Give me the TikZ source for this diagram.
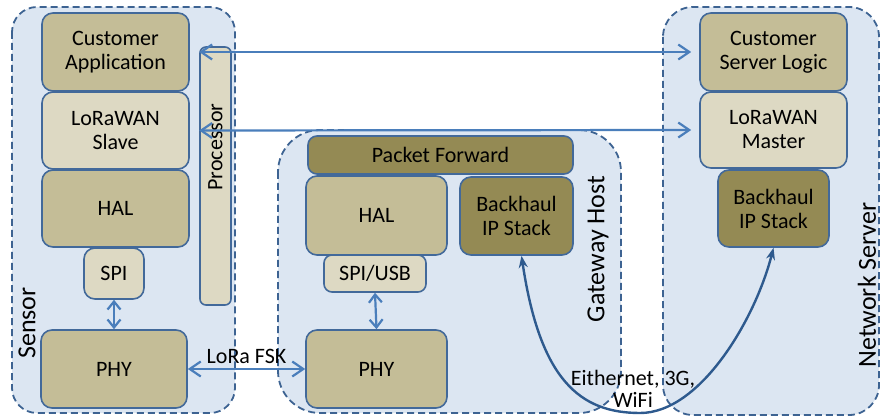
\documentclass[tikz,border=0pt]{standalone}
\usepackage{fontspec}
\setmainfont{Carlito}
\usetikzlibrary{arrows.meta}
\definecolor{zonefill}{HTML}{DCE6F2}
\definecolor{zoneline}{HTML}{3D6392}
\definecolor{boxline}{HTML}{42699A}
\definecolor{tan}{HTML}{C4BD97}
\definecolor{pale}{HTML}{DDD9C3}
\definecolor{olive}{HTML}{948A54}
\definecolor{link}{HTML}{4A7EBB}
\definecolor{trunk}{HTML}{2E5A8E}
\tikzset{
  zone/.style={draw=zoneline, fill=zonefill, dashed, dash pattern=on 7pt off 4pt, line width=1.8pt},
  blk/.style={draw=boxline, line width=1.6pt, rounded corners=11pt, align=center,
    font=\fontsize{22}{24}\selectfont, inner sep=0pt},
  tanbox/.style={blk, fill=tan},
  palebox/.style={blk, fill=pale},
  olivebox/.style={blk, fill=olive},
  zonelabel/.style={rotate=90, inner sep=0pt, font=\fontsize{26}{30}\selectfont},
  barb/.tip={Straight Barb[length=11pt,width=15pt,line width=2.2pt]},
  shortbarb/.tip={Straight Barb[length=8pt,width=13pt,line width=2.2pt]},
  linkarrow/.style={draw=link, line width=2.2pt, {barb}-{barb}},
  uparrow/.style={draw=link, line width=2.2pt, {shortbarb}-{shortbarb}},
  trunkarrow/.style={draw=trunk, line width=2.4pt, {Stealth[length=12pt,width=9pt]}-{Stealth[length=12pt,width=9pt]}}
}
\begin{document}
\begin{tikzpicture}[x=1pt,y=-1pt]
\useasboundingbox (0,0) rectangle (882,419);

% containers
\draw[zone, rounded corners=25pt] (12,7) rectangle (235,413);
\draw[zone, rounded corners=42pt] (278,130) rectangle (621,413);
\draw[zone, rounded corners=30pt] (663,7) rectangle (879,415);

% sensor stack
\node[tanbox, minimum width=147pt, minimum height=78pt] (capp) at (115.5,52) {Customer\\Application};
\node[palebox, minimum width=147pt, minimum height=77pt] (slave) at (115.5,130.5) {LoRaWAN\\Slave};
\node[tanbox, minimum width=147pt, minimum height=77pt] (shal) at (115.5,208.5) {HAL};
\node[palebox, minimum width=60pt, minimum height=51pt] (sspi) at (114,273.5) {SPI};
\node[tanbox, minimum width=146pt, minimum height=78pt] (sphy) at (114,369) {PHY};
\node[palebox, minimum width=31pt, minimum height=258pt, rounded corners=6pt] (proc) at (215.5,176) {};
\node[rotate=90, font=\fontsize{22}{24}\selectfont] (proclabel) at (215.5,147) {Processor};
\node[zonelabel] (sensorlabel) at (27,323) {Sensor};

% gateway stack
\node[olivebox, minimum width=265pt, minimum height=38pt, rounded corners=9pt] (pf) at (440.5,155) {Packet Forward};
\node[tanbox, minimum width=141pt, minimum height=79pt] (ghal) at (376.5,215.5) {HAL};
\node[olivebox, minimum width=113pt, minimum height=78pt] (gbh) at (516.5,216) {Backhaul\\IP Stack};
\node[palebox, minimum width=102pt, minimum height=37pt, rounded corners=8pt] (gspi) at (375,273.5) {SPI/USB};
\node[tanbox, minimum width=141pt, minimum height=78pt] (gphy) at (376.5,369) {PHY};
\node[zonelabel] (gwlabel) at (598,249) {Gateway Host};

% network server stack
\node[tanbox, minimum width=147pt, minimum height=78pt] (csl) at (773.5,52) {Customer\\Server Logic};
\node[palebox, minimum width=147pt, minimum height=76pt] (master) at (773.5,130) {LoRaWAN\\Master};
\node[olivebox, minimum width=111pt, minimum height=77pt] (nbh) at (773.5,208.5) {Backhaul\\IP Stack};
\node[zonelabel] (nslabel) at (867,285) {Network Server};

% end-to-end links
\coordinate (a1) at (proc.west |- capp.east);
\coordinate (a2) at (proc.west |- slave.east);
\draw[linkarrow] (a1) -- ([xshift=-8pt]csl.west);
\draw[linkarrow] (a2) -- ([xshift=-8pt]master.west);

% local links
\draw[uparrow] (sspi.south) -- (sphy.north);
\draw[uparrow] (gspi.south) -- (gphy.north);
\draw[linkarrow] (sphy.east) -- node[above, font=\fontsize{22}{24}\selectfont, yshift=1pt] (rf) {LoRa FSK} (gphy.west);

% backhaul link
\draw[trunkarrow] ([xshift=5pt]gbh.south) .. controls (540,380) and (580,413) .. (640,413)
  .. controls (700,413) and (755,320) .. (nbh.south);
\node[align=center, font=\fontsize{22}{22}\selectfont] (bhlabel) at (633,389) {Eithernet, 3G,\\WiFi};
\end{tikzpicture}
\end{document}
